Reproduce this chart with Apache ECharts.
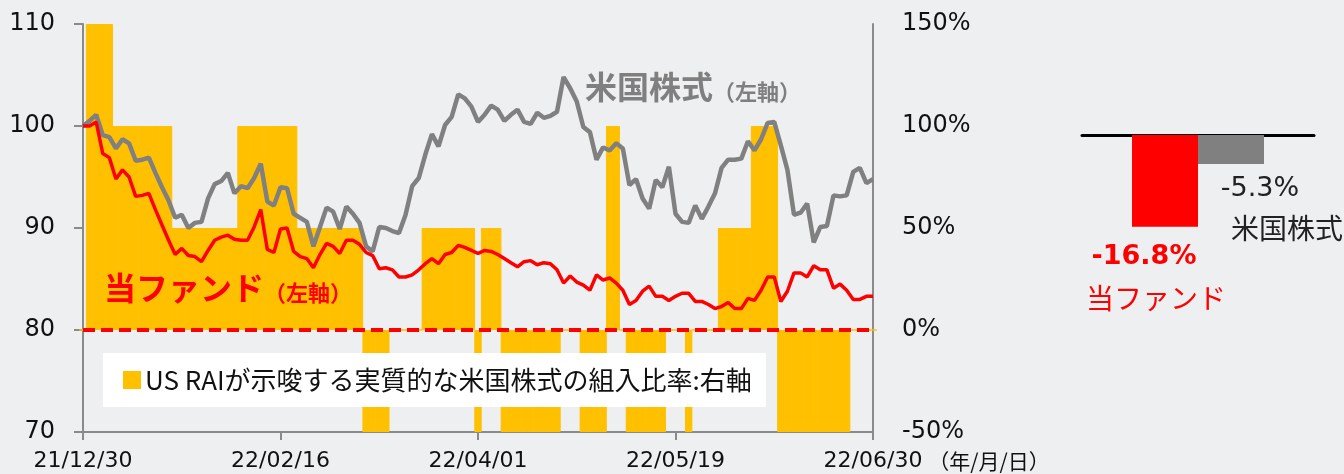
<!DOCTYPE html>
<html>
<head>
<meta charset="utf-8">
<title>US RAI 組入比率と基準価額の推移</title>
<script src="https://cdn.jsdelivr.net/npm/echarts@6/dist/echarts.min.js"></script>
<style>
    html, body { margin: 0; padding: 0; background: #edeff1; }
    #chart { width: 1344px; height: 474px; }
</style>
</head>
<body>
<div id="chart"></div>
<script>
// 営業日 (年/月/日)
var dates = [
    '21/12/30',
    '22/01/04', '22/01/05', '22/01/06', '22/01/07',
    '22/01/11', '22/01/12', '22/01/13', '22/01/14',
    '22/01/17', '22/01/18', '22/01/19', '22/01/20', '22/01/21',
    '22/01/24', '22/01/25', '22/01/26', '22/01/27', '22/01/28',
    '22/01/31', '22/02/01', '22/02/02', '22/02/03', '22/02/04',
    '22/02/07', '22/02/08', '22/02/09', '22/02/10',
    '22/02/14', '22/02/15', '22/02/16',
    '22/02/17', '22/02/18', '22/02/21', '22/02/22', '22/02/24', '22/02/25',
    '22/02/28', '22/03/01', '22/03/02', '22/03/03', '22/03/04',
    '22/03/07', '22/03/08', '22/03/09', '22/03/10', '22/03/11',
    '22/03/14', '22/03/15', '22/03/16', '22/03/17', '22/03/18',
    '22/03/22', '22/03/23', '22/03/24', '22/03/25',
    '22/03/28', '22/03/29', '22/03/30', '22/03/31', '22/04/01',
    '22/04/04', '22/04/05', '22/04/06', '22/04/07', '22/04/08',
    '22/04/11', '22/04/12', '22/04/13', '22/04/14', '22/04/15',
    '22/04/18', '22/04/19', '22/04/20', '22/04/21', '22/04/22',
    '22/04/25', '22/04/26', '22/04/27', '22/04/28',
    '22/05/02', '22/05/06',
    '22/05/09', '22/05/10', '22/05/11', '22/05/12', '22/05/13',
    '22/05/16', '22/05/17', '22/05/18', '22/05/19',
    '22/05/20',
    '22/05/23', '22/05/24', '22/05/25', '22/05/26', '22/05/27',
    '22/05/30', '22/05/31', '22/06/01', '22/06/02', '22/06/03',
    '22/06/06', '22/06/07', '22/06/08', '22/06/09', '22/06/10',
    '22/06/13', '22/06/14', '22/06/15', '22/06/16', '22/06/17',
    '22/06/20', '22/06/21', '22/06/22', '22/06/23', '22/06/24',
    '22/06/27', '22/06/28', '22/06/29', '22/06/30'
];

// 当ファンド (左軸, 21/12/30 = 100)
var fundNav = [
    100.0, 100.0, 100.4, 97.3, 96.9, 94.8, 95.7, 95.0, 93.1, 93.2,
    93.4, 91.8, 90.3, 88.8, 87.4, 88.0, 87.3, 87.2, 86.7, 87.8,
    88.8, 89.1, 89.3, 88.9, 88.8, 88.8, 90.1, 91.8, 87.9, 87.6,
    89.9, 90.0, 87.7, 87.2, 87.0, 86.1, 87.4, 88.5, 88.2, 87.5,
    88.8, 88.8, 88.4, 87.6, 87.3, 86.0, 86.1, 85.9, 85.2, 85.2,
    85.4, 85.9, 86.5, 87.0, 86.5, 87.4, 87.6, 88.3, 88.1, 87.8,
    87.5, 87.8, 87.7, 87.4, 87.0, 86.6, 86.2, 86.7, 86.8, 86.4,
    86.6, 86.5, 85.9, 84.6, 85.3, 84.7, 84.4, 83.9, 85.4, 84.9,
    85.1, 84.6, 83.9, 82.5, 82.9, 83.8, 84.3, 83.3, 83.3, 82.9,
    83.3, 83.6, 83.6, 82.8, 82.8, 82.5, 82.1, 82.3, 82.7, 82.1,
    82.1, 83.1, 82.9, 83.9, 85.2, 85.2, 82.8, 83.8, 85.6, 85.6,
    85.2, 86.3, 85.9, 85.9, 84.1, 84.5, 83.9, 83.0, 83.0, 83.3,
    83.3
];

// 米国株式 (左軸)
var usStock = [
    100.0, 100.5, 101.1, 99.1, 98.9, 97.8, 98.7, 98.3, 96.6, 96.7,
    96.9, 95.4, 94.0, 92.7, 91.0, 91.3, 90.0, 90.5, 90.6, 92.9,
    94.3, 94.6, 95.4, 93.4, 94.1, 93.9, 94.9, 96.3, 92.6, 92.2,
    94.0, 93.9, 91.4, 91.0, 90.6, 88.2, 90.1, 92.0, 91.6, 89.9,
    92.1, 91.4, 90.5, 88.2, 87.7, 90.1, 90.0, 89.7, 89.5, 91.3,
    94.1, 94.9, 97.2, 99.2, 98.0, 100.1, 100.9, 103.1, 102.7, 101.9,
    100.4, 101.1, 102.0, 101.6, 100.5, 101.1, 101.6, 100.4, 100.2, 101.3,
    100.8, 101.0, 101.4, 104.8, 103.7, 102.4, 99.9, 99.4, 96.7, 97.9,
    97.6, 98.3, 97.8, 94.2, 94.8, 92.9, 91.9, 94.7, 94.0, 96.0,
    91.4, 90.6, 90.5, 92.2, 90.9, 92.1, 93.4, 95.9, 96.7, 96.7,
    96.8, 98.5, 97.6, 98.7, 100.3, 100.4, 98.1, 95.7, 91.3, 91.5,
    92.4, 88.6, 90.1, 90.2, 93.2, 93.1, 93.2, 95.5, 95.9, 94.4,
    94.8
];

// US RAIが示唆する実質的な米国株式の組入比率 (右軸, %)
var raiWeight = [
    0, 150, 150, 150, 150, 100, 100, 100, 100, 100,
    100, 100, 100, 100, 50, 50, 50, 50, 50, 50,
    50, 50, 50, 50, 100, 100, 100, 100, 100, 100,
    100, 100, 100, 50, 50, 50, 50, 50, 50, 50,
    50, 50, 50, -50, -50, -50, -50, 0, 0, 0,
    0, 0, 50, 50, 50, 50, 50, 50, 50, 50,
    -50, 50, 50, 50, -50, -50, -50, -50, -50, -50,
    -50, -50, -50, 0, 0, 0, -50, -50, -50, -50,
    100, 100, 0, -50, -50, -50, -50, -50, -50, 0,
    0, 0, -50, 0, 0, 0, 0, 50, 50, 50,
    50, 50, 100, 100, 100, 100, -50, -50, -50, -50,
    -50, -50, -50, -50, -50, -50, -50, 0, 0, 0,
    0
];

// 期間騰落率
var returnNames = ['当ファンド', '米国株式'];
var returnValues = [-16.8, -5.3];

var leftTicks = [70, 110, 10];
var rightTicks = [-50, 150, 50];
var raiName = 'US RAIが示唆する実質的な米国株式の組入比率:右軸';

var JP = "'Noto Sans CJK JP', sans-serif";
var NUM = "'DejaVu Sans', Verdana, sans-serif";
var AXIS_GRAY = '#8a8a8a';
var RAI_COLOR = '#ffc000';

function pctLabel(nameStyle, p) {
    return '{v|' + p.value.toFixed(1) + '%}\n{' + nameStyle + '|' + p.seriesName + '}';
}

var option = {
    backgroundColor: '#edeff1',
    animation: false,
    legend: {
        data: [raiName],
        left: 103,
        top: 353,
        padding: [14, 14, 14, 20],
        backgroundColor: '#ffffff',
        itemWidth: 16,
        itemHeight: 16,
        icon: 'rect',
        selectedMode: false,
        textStyle: { fontFamily: JP, fontSize: 26, color: '#111' }
    },
    grid: [
        { left: 83, right: 471, top: 24, bottom: 42 },
        { left: 1082, right: 30, top: 135, height: 164 }
    ],
    xAxis: [
        {
            type: 'category',
            gridIndex: 0,
            data: dates,
            boundaryGap: false,
            axisLine: { onZero: false, lineStyle: { color: AXIS_GRAY, width: 2 } },
            axisTick: { interval: 29, length: 8, lineStyle: { color: AXIS_GRAY, width: 2 } },
            axisLabel: { interval: 29, margin: 18, fontFamily: NUM, fontSize: 22, color: '#111' },
            name: '（年/月/日）',
            nameLocation: 'end',
            nameGap: 52,
            nameTextStyle: { fontFamily: JP, fontSize: 21, color: '#111', verticalAlign: 'top', padding: [19, 0, 0, 0] }
        },
        {
            type: 'category',
            gridIndex: 1,
            data: [''],
            axisLine: { onZero: true, lineStyle: { color: '#000', width: 3 } },
            axisTick: { show: false },
            axisLabel: { show: false }
        }
    ],
    yAxis: [
        {
            type: 'value',
            gridIndex: 0,
            position: 'left',
            min: leftTicks[0],
            max: leftTicks[1],
            interval: leftTicks[2],
            axisLine: { show: true, lineStyle: { color: AXIS_GRAY, width: 2 } },
            axisTick: { show: true, length: 9, lineStyle: { color: AXIS_GRAY, width: 2 } },
            axisLabel: { margin: 28, fontFamily: NUM, fontSize: 24, color: '#111' },
            splitLine: { show: false }
        },
        {
            type: 'value',
            gridIndex: 0,
            position: 'right',
            min: rightTicks[0],
            max: rightTicks[1],
            interval: rightTicks[2],
            axisLine: { show: true, lineStyle: { color: AXIS_GRAY, width: 2 } },
            axisTick: { show: false },
            axisLabel: { margin: 29, formatter: '{value}%', fontFamily: NUM, fontSize: 24, color: '#111' },
            splitLine: { show: false }
        },
        {
            type: 'value',
            gridIndex: 1,
            min: -30,
            max: 0,
            show: false
        }
    ],
    graphic: [
        {
            type: 'text',
            left: 104,
            top: 272,
            z: 100,
            style: {
                text: '{a|当ファンド}{b|（左軸）}',
                rich: {
                    a: { fontFamily: JP, fontSize: 32, fontWeight: 'bold', fill: '#ff0000' },
                    b: { fontFamily: JP, fontSize: 22, fontWeight: 'bold', fill: '#ff0000', verticalAlign: 'bottom' }
                }
            }
        },
        {
            type: 'text',
            left: 585,
            top: 71,
            z: 100,
            style: {
                text: '{a|米国株式}{b|（左軸）}',
                rich: {
                    a: { fontFamily: JP, fontSize: 32, fontWeight: 'bold', fill: '#7f7f7f' },
                    b: { fontFamily: JP, fontSize: 22, fontWeight: 'bold', fill: '#7f7f7f', verticalAlign: 'bottom' }
                }
            }
        }
    ],
    series: [
        {
            name: raiName,
            type: 'bar',
            xAxisIndex: 0,
            yAxisIndex: 1,
            data: raiWeight,
            // 隣り合う棒のすき間を消すため少し重ねる
            barWidth: '112%',
            itemStyle: { color: RAI_COLOR, borderColor: RAI_COLOR, borderWidth: 1 },
            z: 1
        },
        {
            name: '米国株式（左軸）',
            type: 'line',
            xAxisIndex: 0,
            yAxisIndex: 0,
            data: usStock,
            symbol: 'none',
            lineStyle: { color: '#808080', width: 4.5 },
            z: 3
        },
        {
            name: '当ファンド（左軸）',
            type: 'line',
            xAxisIndex: 0,
            yAxisIndex: 0,
            data: fundNav,
            symbol: 'none',
            lineStyle: { color: '#ff0000', width: 3.5 },
            z: 4,
            markLine: {
                silent: true,
                symbol: ['none', 'none'],
                label: { show: false },
                lineStyle: { color: '#ff0000', width: 4, type: [12, 6] },
                data: [{ yAxis: 80 }]
            }
        },
        {
            name: returnNames[0],
            type: 'bar',
            xAxisIndex: 1,
            yAxisIndex: 2,
            data: [returnValues[0]],
            barWidth: 66,
            barGap: '0%',
            itemStyle: { color: '#ff0000' },
            label: {
                show: true,
                position: 'outside',
                distance: 12,
                offset: [-9, 0],
                formatter: function (p) { return pctLabel('n', p); },
                rich: {
                    v: { fontFamily: NUM, fontWeight: 'bold', fontSize: 27, color: '#ff0000', lineHeight: 36, padding: [0, 24, 0, 0] },
                    n: { fontFamily: JP, fontSize: 28, color: '#ff0000', lineHeight: 48 }
                }
            }
        },
        {
            name: returnNames[1],
            type: 'bar',
            xAxisIndex: 1,
            yAxisIndex: 2,
            data: [returnValues[1]],
            barWidth: 66,
            barGap: '0%',
            itemStyle: { color: '#808080' },
            label: {
                show: true,
                position: 'outside',
                distance: 10,
                offset: [56, 0],
                formatter: function (p) { return pctLabel('n', p); },
                rich: {
                    v: { fontFamily: NUM, fontSize: 27, color: '#222', lineHeight: 30, padding: [0, 54, 0, 0] },
                    n: { fontFamily: JP, fontSize: 28, color: '#222', lineHeight: 48 }
                }
            }
        }
    ]
};

var chart = echarts.init(document.getElementById('chart'), null, { renderer: 'canvas' });
chart.setOption(option);
</script>
</body>
</html>
